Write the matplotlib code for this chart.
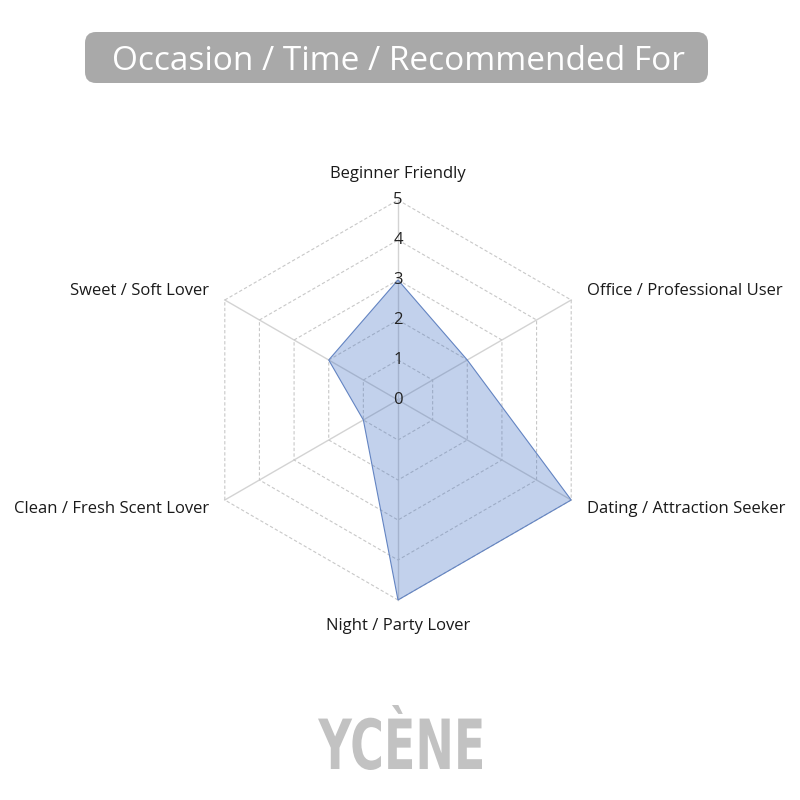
import matplotlib.pyplot as plt
import numpy as np
from matplotlib.patches import FancyBboxPatch, PathPatch, Polygon
from matplotlib.textpath import TextPath
from matplotlib.font_manager import FontProperties
from matplotlib.transforms import Affine2D

# Данные радара
categories = ['Beginner Friendly', 'Office / Professional User',
              'Dating / Attraction Seeker', 'Night / Party Lover',
              'Clean / Fresh Scent Lover', 'Sweet / Soft Lover']
scores = [3, 2, 5, 5, 1, 2]
rings = [1, 2, 3, 4, 5]
tick_labels = ['0', '1', '2', '3', '4', '5']
title = 'Occasion / Time / Recommended For'
brand = 'YCÈNE'

label_font = 'Open Sans'

fig = plt.figure(figsize=(8, 8), dpi=100)
ax = fig.add_axes([0, 0, 1, 1])
ax.set_xlim(0, 800)
ax.set_ylim(800, 0)
ax.axis('off')

# центр и масштаб (пикселей на единицу)
cx, cy, unit = 398, 400, 40
n = len(categories)
ang = np.pi / 2 - np.arange(n) * 2 * np.pi / n
rmax = max(rings)


def to_xy(r, a):
    return cx + unit * np.asarray(r) * np.cos(a), cy - unit * np.asarray(r) * np.sin(a)


# лучи
for a in ang:
    x, y = to_xy([0, rmax], a)
    ax.plot(x, y, color='#d3d3d3', lw=1.0, zorder=1)

# шестиугольники сетки
for r in rings:
    x, y = to_xy(np.full(n + 1, r), np.append(ang, ang[0]))
    ax.plot(x, y, color='#c8c8c8', lw=0.8, ls=(0, (3, 2)), zorder=1)

# область значений
px, py = to_xy(scores, ang)
ax.add_patch(Polygon(np.column_stack([px, py]), closed=True,
                     facecolor='#4472c4', alpha=0.32, edgecolor='none', zorder=2))
ax.add_patch(Polygon(np.column_stack([px, py]), closed=True,
                     facecolor='none', edgecolor='#6384c2', lw=0.8, zorder=3))

# подписи делений
for i, t in enumerate(tick_labels):
    ax.text(cx, cy - unit * i, t, ha='center', va='center', fontsize=12,
            family=label_font, color='#222222', zorder=4)

# подписи категорий
for a, name in zip(ang, categories):
    x, y = to_xy(rmax + 0.46, a)
    c, s = np.cos(a), np.sin(a)
    if abs(c) < 1e-6:
        ha = 'center'
        va = 'bottom' if s > 0 else 'top'
    else:
        ha = 'left' if c > 0 else 'right'
        va = 'center'
    ax.text(x, y, name, ha=ha, va=va, fontsize=12, family=label_font,
            color='#1a1a1a')

# заголовок в серой плашке
ax.add_patch(FancyBboxPatch((85, 32), 623, 51,
                            boxstyle='round,pad=0,rounding_size=11',
                            facecolor='#a9a9a9', edgecolor='none'))
ax.text(399, 61, title, ha='center', va='center', fontsize=24,
        family='Open Sans', color='white')

# логотип (сжатый по ширине)
tp = TextPath((0, 0), brand, size=100,
              prop=FontProperties(family=['Liberation Sans Narrow', 'DejaVu Sans'],
                                  weight='bold'))
ext = tp.get_extents()
sx = (482 - 318) / ext.width
sy = (770 - 705) / ext.height
tr = Affine2D().translate(-ext.x0, -ext.y0).scale(sx, -sy).translate(318, 770)
ax.add_patch(PathPatch(tr.transform_path(tp), facecolor='#c2c2c2', edgecolor='none'))

fig.savefig('out.png', dpi=100)
